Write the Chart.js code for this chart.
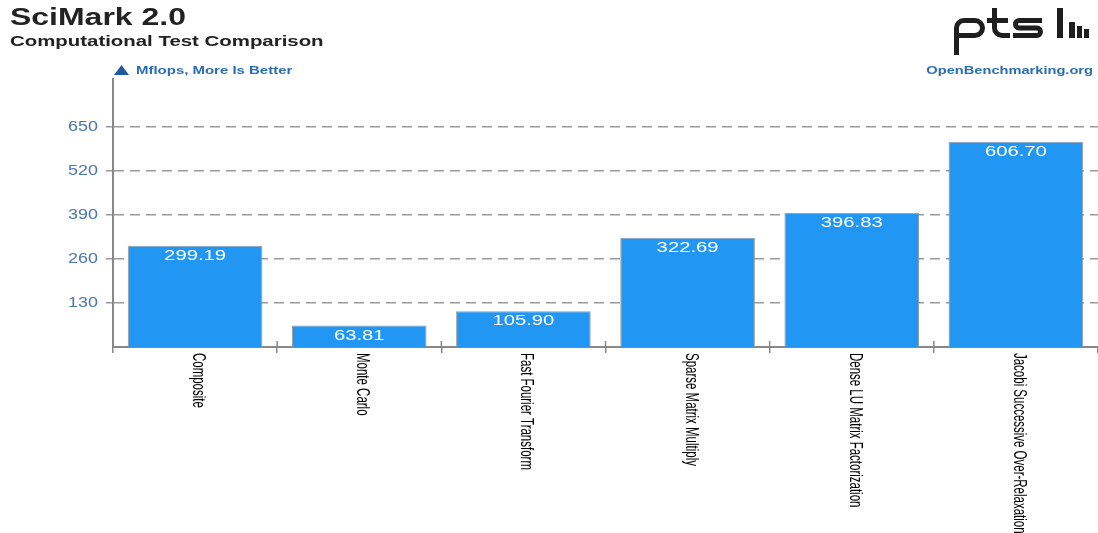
<!DOCTYPE html>
<html>
<head>
<meta charset="utf-8">
<script src="https://cdn.jsdelivr.net/npm/chart.js@4.4.1/dist/chart.umd.min.js"></script>
<style>
  html, body { margin: 0; padding: 0; background: #fff; }
  #wrap { position: relative; width: 1098px; height: 533px; }
</style>
</head>
<body>
<div id="wrap"><canvas id="chart" width="1098" height="533"></canvas></div>
<script>
const categories = [
  "Composite",
  "Monte Carlo",
  "Fast Fourier Transform",
  "Sparse Matrix Multiply",
  "Dense LU Matrix Factorization",
  "Jacobi Successive Over-Relaxation",
]
const mflops = [299.19, 63.81, 105.9, 322.69, 396.83, 606.7]
const yTicks = [130, 260, 390, 520, 650]

const FONT = "'Liberation Sans', Arial, sans-serif"

// the source picture is stretched sideways, so text is drawn a bit wide
function wideText(ctx, text, x, y, sx) {
  ctx.save()
  ctx.translate(x, y)
  ctx.scale(sx, 1)
  ctx.fillText(text, 0, 0)
  ctx.restore()
}

function drawLogo(ctx) {
  ctx.save()
  ctx.strokeStyle = "#1e1e1e"
  ctx.fillStyle = "#1e1e1e"
  ctx.lineWidth = 5
  ctx.lineCap = "butt"
  // p
  ctx.beginPath()
  ctx.moveTo(956.5, 55)
  ctx.lineTo(956.5, 28)
  ctx.arcTo(956.5, 20.5, 982.5, 20.5, 7.5)
  ctx.arcTo(982.5, 20.5, 982.5, 35.5, 7.5)
  ctx.arcTo(982.5, 35.5, 956.5, 35.5, 7.5)
  ctx.lineTo(956.5, 35.5)
  ctx.stroke()
  // t
  ctx.beginPath()
  ctx.moveTo(994.5, 8)
  ctx.arcTo(994.5, 35.5, 1010, 35.5, 7.5)
  ctx.lineTo(1010, 35.5)
  ctx.moveTo(987, 20.5)
  ctx.lineTo(1008, 20.5)
  ctx.stroke()
  // s
  ctx.beginPath()
  ctx.moveTo(1042, 20.5)
  ctx.arcTo(1015.5, 20.5, 1015.5, 28, 3.75)
  ctx.arcTo(1015.5, 28, 1040.5, 28, 3.75)
  ctx.arcTo(1040.5, 28, 1040.5, 35.5, 3.75)
  ctx.arcTo(1040.5, 35.5, 1013, 35.5, 3.75)
  ctx.lineTo(1013, 35.5)
  ctx.stroke()
  // l and bars
  ctx.fillRect(1057, 8, 6, 30)
  ctx.fillRect(1069, 22, 6, 16)
  ctx.fillRect(1077, 26, 5, 12)
  ctx.fillRect(1084, 29, 5, 9)
  ctx.restore()
}

const headerPlugin = {
  id: "header",
  afterDraw: (chart) => {
    const ctx = chart.ctx
    ctx.save()
    ctx.textBaseline = "alphabetic"
    ctx.textAlign = "left"
    ctx.fillStyle = "#222"
    ctx.font = "bold 23px " + FONT
    wideText(ctx, "SciMark 2.0", 10, 25, 1.39)
    ctx.font = "bold 15px " + FONT
    wideText(ctx, "Computational Test Comparison", 10, 46, 1.36)

    // "more is better" marker
    ctx.fillStyle = "#1f5a9e"
    ctx.beginPath()
    ctx.moveTo(114, 75)
    ctx.lineTo(121.5, 65)
    ctx.lineTo(129, 75)
    ctx.closePath()
    ctx.fill()
    ctx.fillStyle = "#2a6db5"
    ctx.font = "bold 11px " + FONT
    wideText(ctx, "Mflops, More Is Better", 136, 74, 1.36)
    ctx.textAlign = "right"
    wideText(ctx, "OpenBenchmarking.org", 1093, 74, 1.33)

    drawLogo(ctx)

    // y tick labels
    const ys = chart.scales.y
    ctx.fillStyle = "#4a76b0"
    ctx.textAlign = "right"
    ctx.textBaseline = "middle"
    ctx.font = "14px " + FONT
    yTicks.forEach((v) => {
      wideText(ctx, String(v), 98, ys.getPixelForValue(v), 1.28)
    })

    // value labels inside bars
    const meta = chart.getDatasetMeta(0)
    ctx.fillStyle = "#fff"
    ctx.textAlign = "center"
    ctx.font = "15px " + FONT
    meta.data.forEach((bar, i) => {
      wideText(ctx, mflops[i].toFixed(2), bar.x, bar.y + 10, 1.35)
    })

    // small crosses where the category ticks meet the axis
    const xs = chart.scales.x
    ctx.strokeStyle = "#888"
    ctx.lineWidth = 1.5
    for (let i = 1; i < categories.length; i++) {
      const bx = (xs.getPixelForValue(i - 1) + xs.getPixelForValue(i)) / 2
      ctx.beginPath()
      ctx.moveTo(bx, xs.top - 6)
      ctx.lineTo(bx, xs.top)
      ctx.stroke()
    }

    // rotated category labels (read top to bottom)
    ctx.fillStyle = "#000"
    ctx.textAlign = "left"
    ctx.textBaseline = "alphabetic"
    ctx.font = "14px " + FONT
    categories.forEach((c, i) => {
      const x = xs.getPixelForValue(i)
      ctx.save()
      ctx.translate(x - 2, xs.top + 6)
      ctx.rotate(Math.PI / 2)
      ctx.scale(0.82, 1.25)
      ctx.fillText(c, 0, 0)
      ctx.restore()
    })
    ctx.restore()
  },
}

const ctx = document.getElementById("chart").getContext("2d")
new Chart(ctx, {
  type: "bar",
  data: {
    labels: categories,
    datasets: [
      {
        label: "Mflops",
        data: mflops,
        backgroundColor: "#2196f3",
        borderColor: "#999",
        borderWidth: 1,
        barPercentage: 0.82,
        categoryPercentage: 1,
      },
    ],
  },
  options: {
    responsive: false,
    animation: false,
    layout: { padding: { top: 79, right: 0, left: 0, bottom: 0 } },
    plugins: {
      legend: { display: false },
      tooltip: { enabled: false },
    },
    scales: {
      x: {
        grid: {
          offset: true,
          drawOnChartArea: false,
          color: "#888",
          lineWidth: 1.5,
          tickLength: 6,
        },
        border: { color: "#888", width: 2 },
        ticks: { display: false },
        afterFit: (scale) => {
          scale.height = 186
        },
      },
      y: {
        min: 0,
        max: 792,
        afterBuildTicks: (scale) => {
          scale.ticks = yTicks.map((v) => ({ value: v }))
        },
        grid: {
          color: "#999",
          lineWidth: 1.5,
          tickLength: 7,
        },
        border: { color: "#888", width: 2, dash: [10, 6] },
        ticks: { display: false },
        afterFit: (scale) => {
          scale.width = 113
        },
      },
    },
  },
  plugins: [headerPlugin],
})
</script>
</body>
</html>
